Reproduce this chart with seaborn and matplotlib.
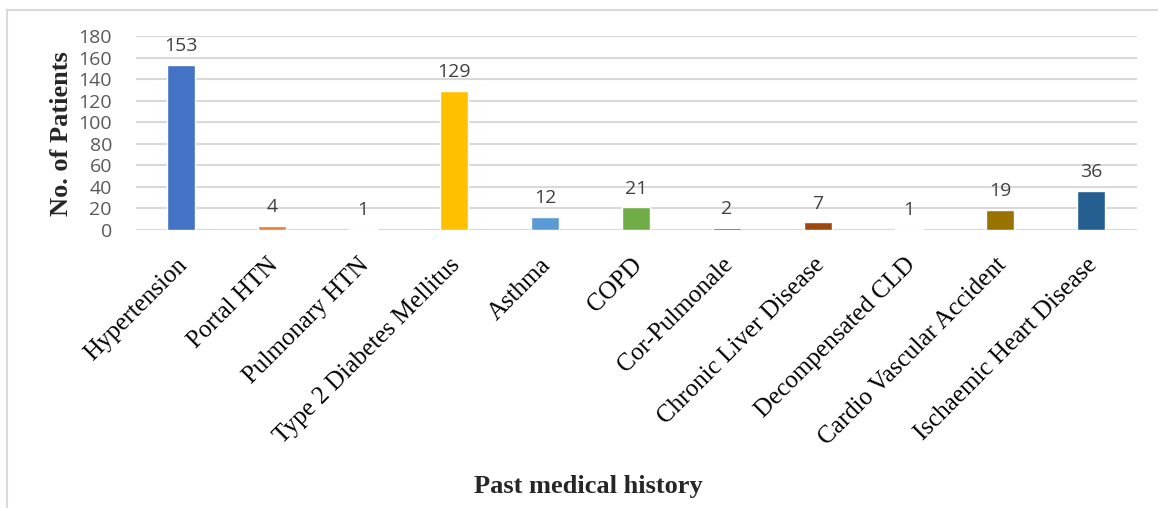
import numpy as np
import pandas as pd
import matplotlib
matplotlib.use('Agg')
import matplotlib.pyplot as plt
import matplotlib.transforms as mtransforms
import seaborn as sns
from matplotlib.patches import Rectangle

# values
conditions = ['Hypertension', 'Portal HTN', 'Pulmonary HTN', 'Type 2 Diabetes Mellitus',
              'Asthma', 'COPD', 'Cor-Pulmonale', 'Chronic Liver Disease',
              'Decompensated CLD', 'Cardio Vascular Accident', 'Ischaemic Heart Disease']
patients = [153, 4, 1, 129, 12, 21, 2, 7, 1, 19, 36]
bar_colors = ['#4472C4', '#ED7D31', '#A5A5A5', '#FFC000', '#5B9BD5', '#70AD47',
              '#264478', '#9E480E', '#636363', '#997300', '#255E91']
y_ticks = [0, 20, 40, 60, 80, 100, 120, 140, 160, 180]

df = pd.DataFrame({'condition': conditions, 'patients': patients})

sns.set_style('white')
fig = plt.figure(figsize=(11.58, 5.08), dpi=100)
ax = fig.add_axes([135.5 / 1158, 1 - 230 / 508, 1001 / 1158, 194 / 508])

sns.barplot(data=df, x='condition', y='patients', hue='condition', palette=bar_colors,
            width=0.31, legend=False, saturation=1, ax=ax)

ax.set_ylim(0, 180)
ax.set_xlim(-0.5, len(conditions) - 0.5)
ax.set_yticks(y_ticks)
ax.yaxis.grid(True, color='#D9D9D9', linewidth=1.5)
ax.set_axisbelow(True)
for s in ax.spines.values():
    s.set_visible(False)

ax.tick_params(axis='y', length=0, pad=17, labelsize=14, labelcolor='#595959')
for lbl in ax.get_yticklabels():
    lbl.set_fontfamily('Open Sans')

ax.set_xticks(range(len(conditions)))
ax.set_xticklabels(conditions, rotation=45, ha='right', rotation_mode='anchor',
                   fontfamily='Liberation Serif', fontsize=18, color='black')
ax.tick_params(axis='x', length=0, pad=17)
# nudge the slanted labels a little to the left, like the original
shift = mtransforms.ScaledTranslation(-0.05, 0, fig.dpi_scale_trans)
for lbl in ax.get_xticklabels():
    lbl.set_transform(lbl.get_transform() + shift)

for i, v in enumerate(patients):
    ax.annotate(str(v), (i, v), xytext=(0, 7), textcoords='offset points',
                ha='center', va='bottom', fontsize=14, color='#404040',
                fontfamily='Open Sans')

ax.set_xlabel('')
ax.set_ylabel('')
fig.text(62 / 1158, 1 - 134 / 508, 'No. of Patients', rotation=90, ha='center', va='center',
         fontfamily='Liberation Serif', fontweight='bold', fontsize=19)
fig.text(588 / 1158, 1 - 487 / 508, 'Past medical history', ha='center', va='center',
         fontfamily='Liberation Serif', fontweight='bold', fontsize=19)

# light frame around the chart area
fig.patches.append(Rectangle((7 / 1158, -0.05), 1.2, 1 - 10 / 508 + 0.05,
                             transform=fig.transFigure, fill=False,
                             edgecolor='#D9D9D9', linewidth=1.5))

fig.savefig('out.png', dpi=100)
